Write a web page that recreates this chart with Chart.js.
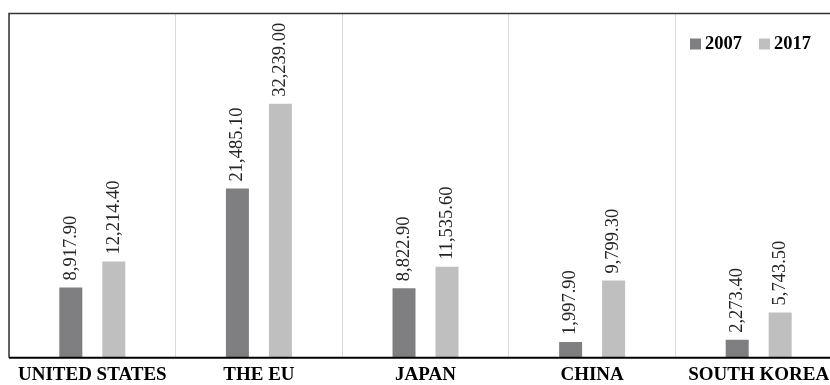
<!DOCTYPE html>
<html>
<head>
<meta charset="utf-8">
<script src="https://cdn.jsdelivr.net/npm/chart.js@4/dist/chart.umd.min.js"></script>
<style>
  html, body { margin: 0; padding: 0; background: #fff; overflow: hidden; }
  #wrap { position: relative; width: 850px; height: 385px; }
</style>
</head>
<body>
<div id="wrap"><canvas id="chart"></canvas></div>
<script>
// categories and yearly values
const regions = ["UNITED STATES", "THE EU", "JAPAN", "CHINA", "SOUTH KOREA"];
const years = ["2007", "2017"];
const values2007 = [8917.9, 21485.1, 8822.9, 1997.9, 2273.4];
const values2017 = [12214.4, 32239.0, 11535.6, 9799.3, 5743.5];
const barColors = ["#7f7f81", "#bfbfbf"];

const serif = "'Liberation Serif', 'Times New Roman', serif";

const fmt = v => v.toLocaleString("en-US", { minimumFractionDigits: 2, maximumFractionDigits: 2 });

// rotated value labels above each bar
const valueLabels = {
  id: "valueLabels",
  afterDatasetsDraw(chart) {
    const ctx = chart.ctx;
    ctx.save();
    ctx.font = "18.5px " + serif;
    ctx.fillStyle = "#262626";
    ctx.textAlign = "left";
    ctx.textBaseline = "middle";
    chart.data.datasets.forEach((ds, i) => {
      chart.getDatasetMeta(i).data.forEach((bar, j) => {
        ctx.save();
        ctx.translate(bar.x, bar.y - 7);
        ctx.rotate(-Math.PI / 2);
        ctx.fillText(fmt(ds.data[j]), 0, 0);
        ctx.restore();
      });
    });
    ctx.restore();
  }
};

// frame: top, left and bottom lines
const frame = {
  id: "frame",
  afterDraw(chart) {
    const { ctx, chartArea: a } = chart;
    ctx.save();
    ctx.strokeStyle = "#333";
    ctx.lineWidth = 1.5;
    ctx.beginPath();
    ctx.moveTo(a.right + 10, a.top);
    ctx.lineTo(a.left, a.top);
    ctx.lineTo(a.left, a.bottom);
    ctx.stroke();
    ctx.strokeStyle = "#000";
    ctx.lineWidth = 2;
    ctx.beginPath();
    ctx.moveTo(a.left, a.bottom);
    ctx.lineTo(a.right + 10, a.bottom);
    ctx.stroke();
    ctx.restore();
  }
};

// legend in the top right corner
const insideLegend = {
  id: "insideLegend",
  afterDraw(chart) {
    const ctx = chart.ctx;
    ctx.save();
    ctx.font = "bold 18.5px " + serif;
    ctx.textBaseline = "middle";
    ctx.textAlign = "left";
    const xs = [690, 759];
    const y = 43.5;
    chart.data.datasets.forEach((ds, i) => {
      ctx.fillStyle = ds.backgroundColor;
      ctx.fillRect(xs[i], y - 5, 11, 11);
      ctx.fillStyle = "#000";
      ctx.fillText(ds.label, xs[i] + 15, y + 1);
    });
    ctx.restore();
  }
};

new Chart(document.getElementById("chart"), {
  type: "bar",
  data: {
    labels: regions,
    datasets: [
      { label: years[0], data: values2007, backgroundColor: barColors[0] },
      { label: years[1], data: values2017, backgroundColor: barColors[1] }
    ]
  },
  options: {
    responsive: true,
    maintainAspectRatio: false,
    animation: false,
    categoryPercentage: 0.516,
    barPercentage: 0.535,
    layout: { padding: { left: 9, top: 13.5, right: 8, bottom: -7.5 } },
    plugins: {
      legend: { display: false },
      tooltip: { enabled: false }
    },
    scales: {
      x: {
        grid: { color: "#d9d9d9", lineWidth: 1, drawTicks: false, offset: true },
        border: { display: false },
        ticks: {
          color: "#000",
          padding: 6,
          font: { family: serif, size: 19, weight: "bold" }
        }
      },
      y: {
        display: false,
        min: 0,
        max: 43700
      }
    }
  },
  plugins: [valueLabels, frame, insideLegend]
});
</script>
</body>
</html>
